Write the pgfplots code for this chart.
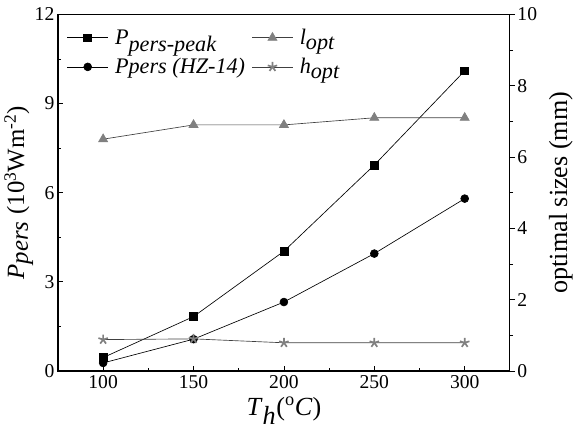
\documentclass[border=0pt]{standalone}
\usepackage{fontspec}
\setmainfont{Liberation Serif}
\usepackage{pgfplots}
\pgfplotsset{compat=1.18}
\definecolor{mgray}{RGB}{128,128,128}
\begin{document}
\begin{tikzpicture}
\pgfplotsset{
  every axis/.append style={
    scale only axis, width=346pt, height=273pt,
    xmin=75, xmax=325,
    /pgf/number format/assume math mode=true,
    tick label style={font=\fontsize{15}{16}\selectfont},
    line width=0.9pt,
    tick style={line width=0.6pt, black},
    major tick length=4pt, minor tick length=2.5pt,
  }
}
\begin{axis}[
  axis y line*=left, axis x line*=bottom,
  ymin=0, ymax=12,
  ytick={0,3,6,9,12}, minor ytick={1.5,4.5,7.5,10.5},
  xtick={100,150,200,250,300}, minor xtick={125,175,225,275},
  tick align=inside,
  yticklabel style={xshift=1pt},
  xlabel={\textit{T}$_{\textit{h}}$(\textsuperscript{o}\textit{C})},
  ylabel={\textit{P}$_{\textit{pers}}$ (10\textsuperscript{3}Wm\textsuperscript{-2})},
  ylabel style={yshift=-6pt, font=\fontsize{19}{21}\selectfont},
  xlabel style={yshift=1pt, font=\fontsize{20}{22}\selectfont},
]
\addplot[black, line width=0.5pt, mark=square*, mark size=3pt, mark options={solid}] coordinates {
  (100,0.45) (150,1.83) (200,4.03) (250,6.93) (300,10.1)};
\addplot[black, line width=0.5pt, mark=*, mark size=3pt] coordinates {
  (100,0.27) (150,1.07) (200,2.32) (250,3.95) (300,5.8)};
\end{axis}
\begin{axis}[
  axis y line*=right, axis x line=none,
  ymin=0, ymax=10,
  ytick={0,2,4,6,8,10}, minor ytick={1,3,5,7,9},
  tick align=outside,
  yticklabel style={xshift=-2pt},
  ylabel={optimal sizes (mm)},
  ylabel style={yshift=-2pt, font=\fontsize{20}{22}\selectfont},
  legend style={draw=none, fill=none, at={(0.01,0.975)}, anchor=north west,
    font=\fontsize{17}{19}\selectfont, column sep=3pt, row sep=5pt},
  legend columns=2,
  legend cell align=left,
  legend image code/.code={\draw[mark repeat=2,mark phase=2] plot coordinates {(0cm,0cm) (0.55cm,0cm) (1.1cm,0cm)};},
]
\addlegendimage{black, line width=0.5pt, mark=square*, mark size=3pt}
\addlegendentry{\textit{P}$_{\textit{pers-peak}}$}
\addplot[black!75, line width=0.5pt, mark=triangle*, mark size=4pt, mark options={mgray, fill=mgray}] coordinates {
  (100,6.5) (150,6.9) (200,6.9) (250,7.1) (300,7.1)};
\addlegendentry{\textit{l}$_{\textit{opt}}$}
\addlegendimage{black, line width=0.5pt, mark=*, mark size=3pt}
\addlegendentry{\textit{Ppers (HZ-14)}}
\addplot[black!75, line width=0.5pt, mark=star, mark size=3.8pt, mark options={mgray, fill=mgray, line width=1.3pt}] coordinates {
  (100,0.88) (150,0.9) (200,0.79) (250,0.79) (300,0.79)};
\addlegendentry{\textit{h}$_{\textit{opt}}$}
\end{axis}
\draw[line width=0.9pt] (0,0) rectangle (346pt,273pt);
\path (0,-40pt) (0,284pt);
\end{tikzpicture}
\end{document}
